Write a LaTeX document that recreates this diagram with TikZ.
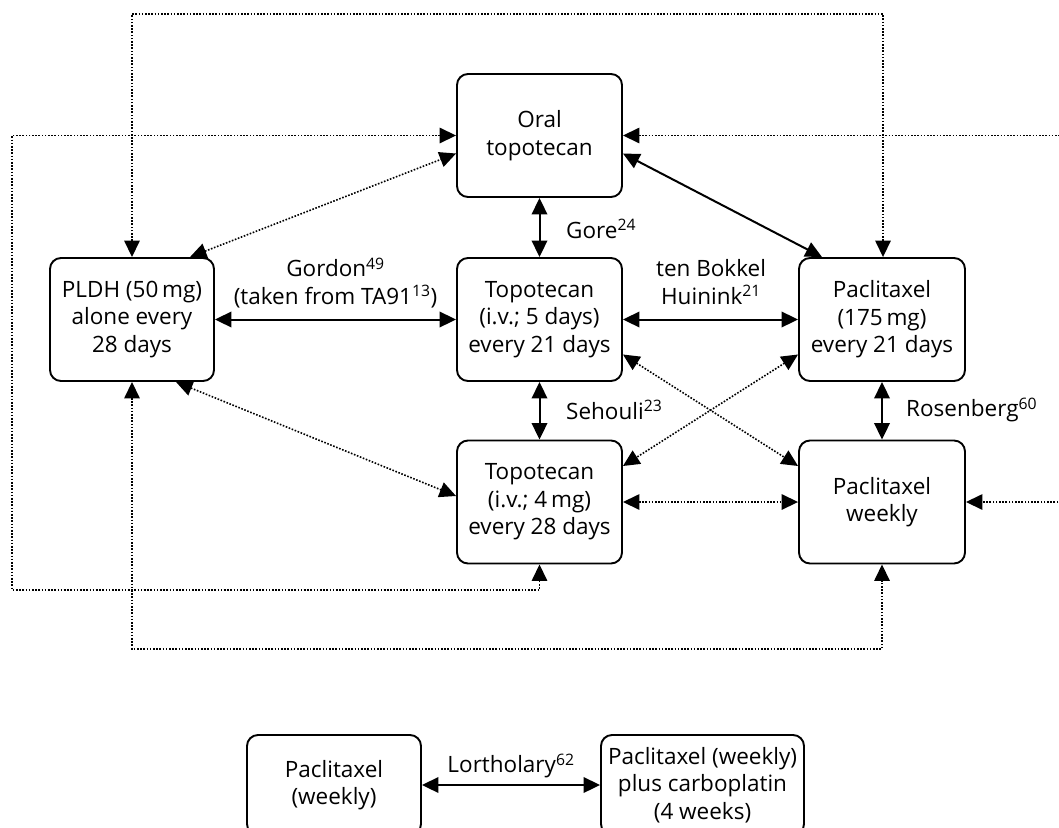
\documentclass[tikz,border=0pt]{standalone}
\usepackage{fontspec}
\setmainfont{Open Sans}
\usetikzlibrary{arrows.meta,calc}
\newcommand\diagfont{\fontsize{22.5}{27.5}\selectfont}
\begin{document}
\begin{tikzpicture}[x=1pt,y=-1pt,
  >={Triangle[length=16.5pt,width=15.5pt]},
  regimen/.style={draw, line width=1.9pt, rounded corners=11pt,
    minimum width=165pt, minimum height=123pt, inner sep=0pt,
    align=center, font=\diagfont},
  lbl/.style={inner sep=0pt, align=center, font=\diagfont},
  solidln/.style={line width=2pt, <->},
  dotln/.style={line width=1.6pt, dash pattern=on 1.6pt off 1.6pt, <->}]
\useasboundingbox (0,0) rectangle (1059,827);
\clip (0,0) rectangle (1059,827);

% treatment boxes of the main network
\node[regimen] (oral)   at (539.5,135.5) {Oral\\topotecan};
\node[regimen, minimum width=164pt] (pldh) at (132,319.5) {PLDH (50\,mg)\\alone every\\28 days};
\node[regimen] (top5)   at (539.5,319.5) {Topotecan\\(i.v.; 5 days)\\every 21 days};
\node[regimen, minimum width=166pt] (pac175) at (882,319.5) {Paclitaxel\\(175\,mg)\\every 21 days};
\node[regimen] (top4)   at (539.5,502) {Topotecan\\(i.v.; 4\,mg)\\every 28 days};
\node[regimen, minimum width=166pt] (pacw) at (882,502) {Paclitaxel\\weekly};

% separate comparison at the bottom
\node[regimen, minimum width=174pt, minimum height=100pt] (pwk) at (334,785) {Paclitaxel\\(weekly)};
\node[regimen, minimum width=203pt, minimum height=100pt] (pcarb) at (702.5,785) {Paclitaxel (weekly)\\plus carboplatin\\(4 weeks)};

% routing levels of the outer dotted loops
\coordinate (ytop) at (0,14);
\coordinate (xleft) at (12,0);
\coordinate (ymid) at (0,590);
\coordinate (ylow) at (0,649);
\coordinate (xright) at (1075,0);

% direct comparisons (solid)
\draw[solidln] (pldh.east) -- (top5.west);
\draw[solidln] (top5.east) -- (pac175.west);
\draw[solidln] (oral.south) -- (top5.north);
\draw[solidln] (top5.south) -- (top4.north);
\draw[solidln] (pac175.south) -- (pacw.north);
\draw[solidln] ($(oral.east)+(0,18)$) -- ($(pac175.north)+(-60,0)$);
\draw[solidln] (pwk.east) -- (pcarb.west);

% indirect comparisons (dotted)
\draw[dotln] ($(pldh.north)+(58,0)$) -- ($(oral.west)+(0,18)$);
\draw[dotln] ($(pldh.south)+(44,0)$) -- ($(top4.west)+(0,-6)$);
\draw[dotln] ($(top5.east)+(0,35)$) -- ($(pacw.west)+(0,-36)$);
\draw[dotln] ($(pac175.west)+(0,35)$) -- ($(top4.east)+(0,-36)$);
\draw[dotln] (top4.east) -- (pacw.west);
\draw[dotln] (pldh.north) -- (pldh.north |- ytop) -- ($(pac175.north |- ytop)+(1,0)$) -- ($(pac175.north)+(1,0)$);
\draw[dotln] (oral.west) -- (oral.west -| xleft) -- (xleft |- ymid) -- (top4.south |- ymid) -- (top4.south);
\draw[dotln] (oral.east) -- (oral.east -| xright) -- (xright |- pacw.east) -- (pacw.east);
\draw[dotln] (pldh.south) -- (pldh.south |- ylow) -- (pacw.south |- ylow) -- (pacw.south);

% study labels
\node[lbl] (gordon) at (335.5,283) {Gordon\textsuperscript{49}\\(taken from TA91\textsuperscript{13})};
\node[lbl] (bokkel) at (711,282) {ten Bokkel\\Huinink\textsuperscript{21}};
\node[lbl, anchor=west] (gore) at (566,229) {Gore\textsuperscript{24}};
\node[lbl, anchor=west] (sehouli) at (566,410) {Sehouli\textsuperscript{23}};
\node[lbl, anchor=west] (rosenberg) at (906,410) {Rosenberg\textsuperscript{60}};
\node[lbl] (lortholary) at (511,766) {Lortholary\textsuperscript{62}};
\end{tikzpicture}
\end{document}
